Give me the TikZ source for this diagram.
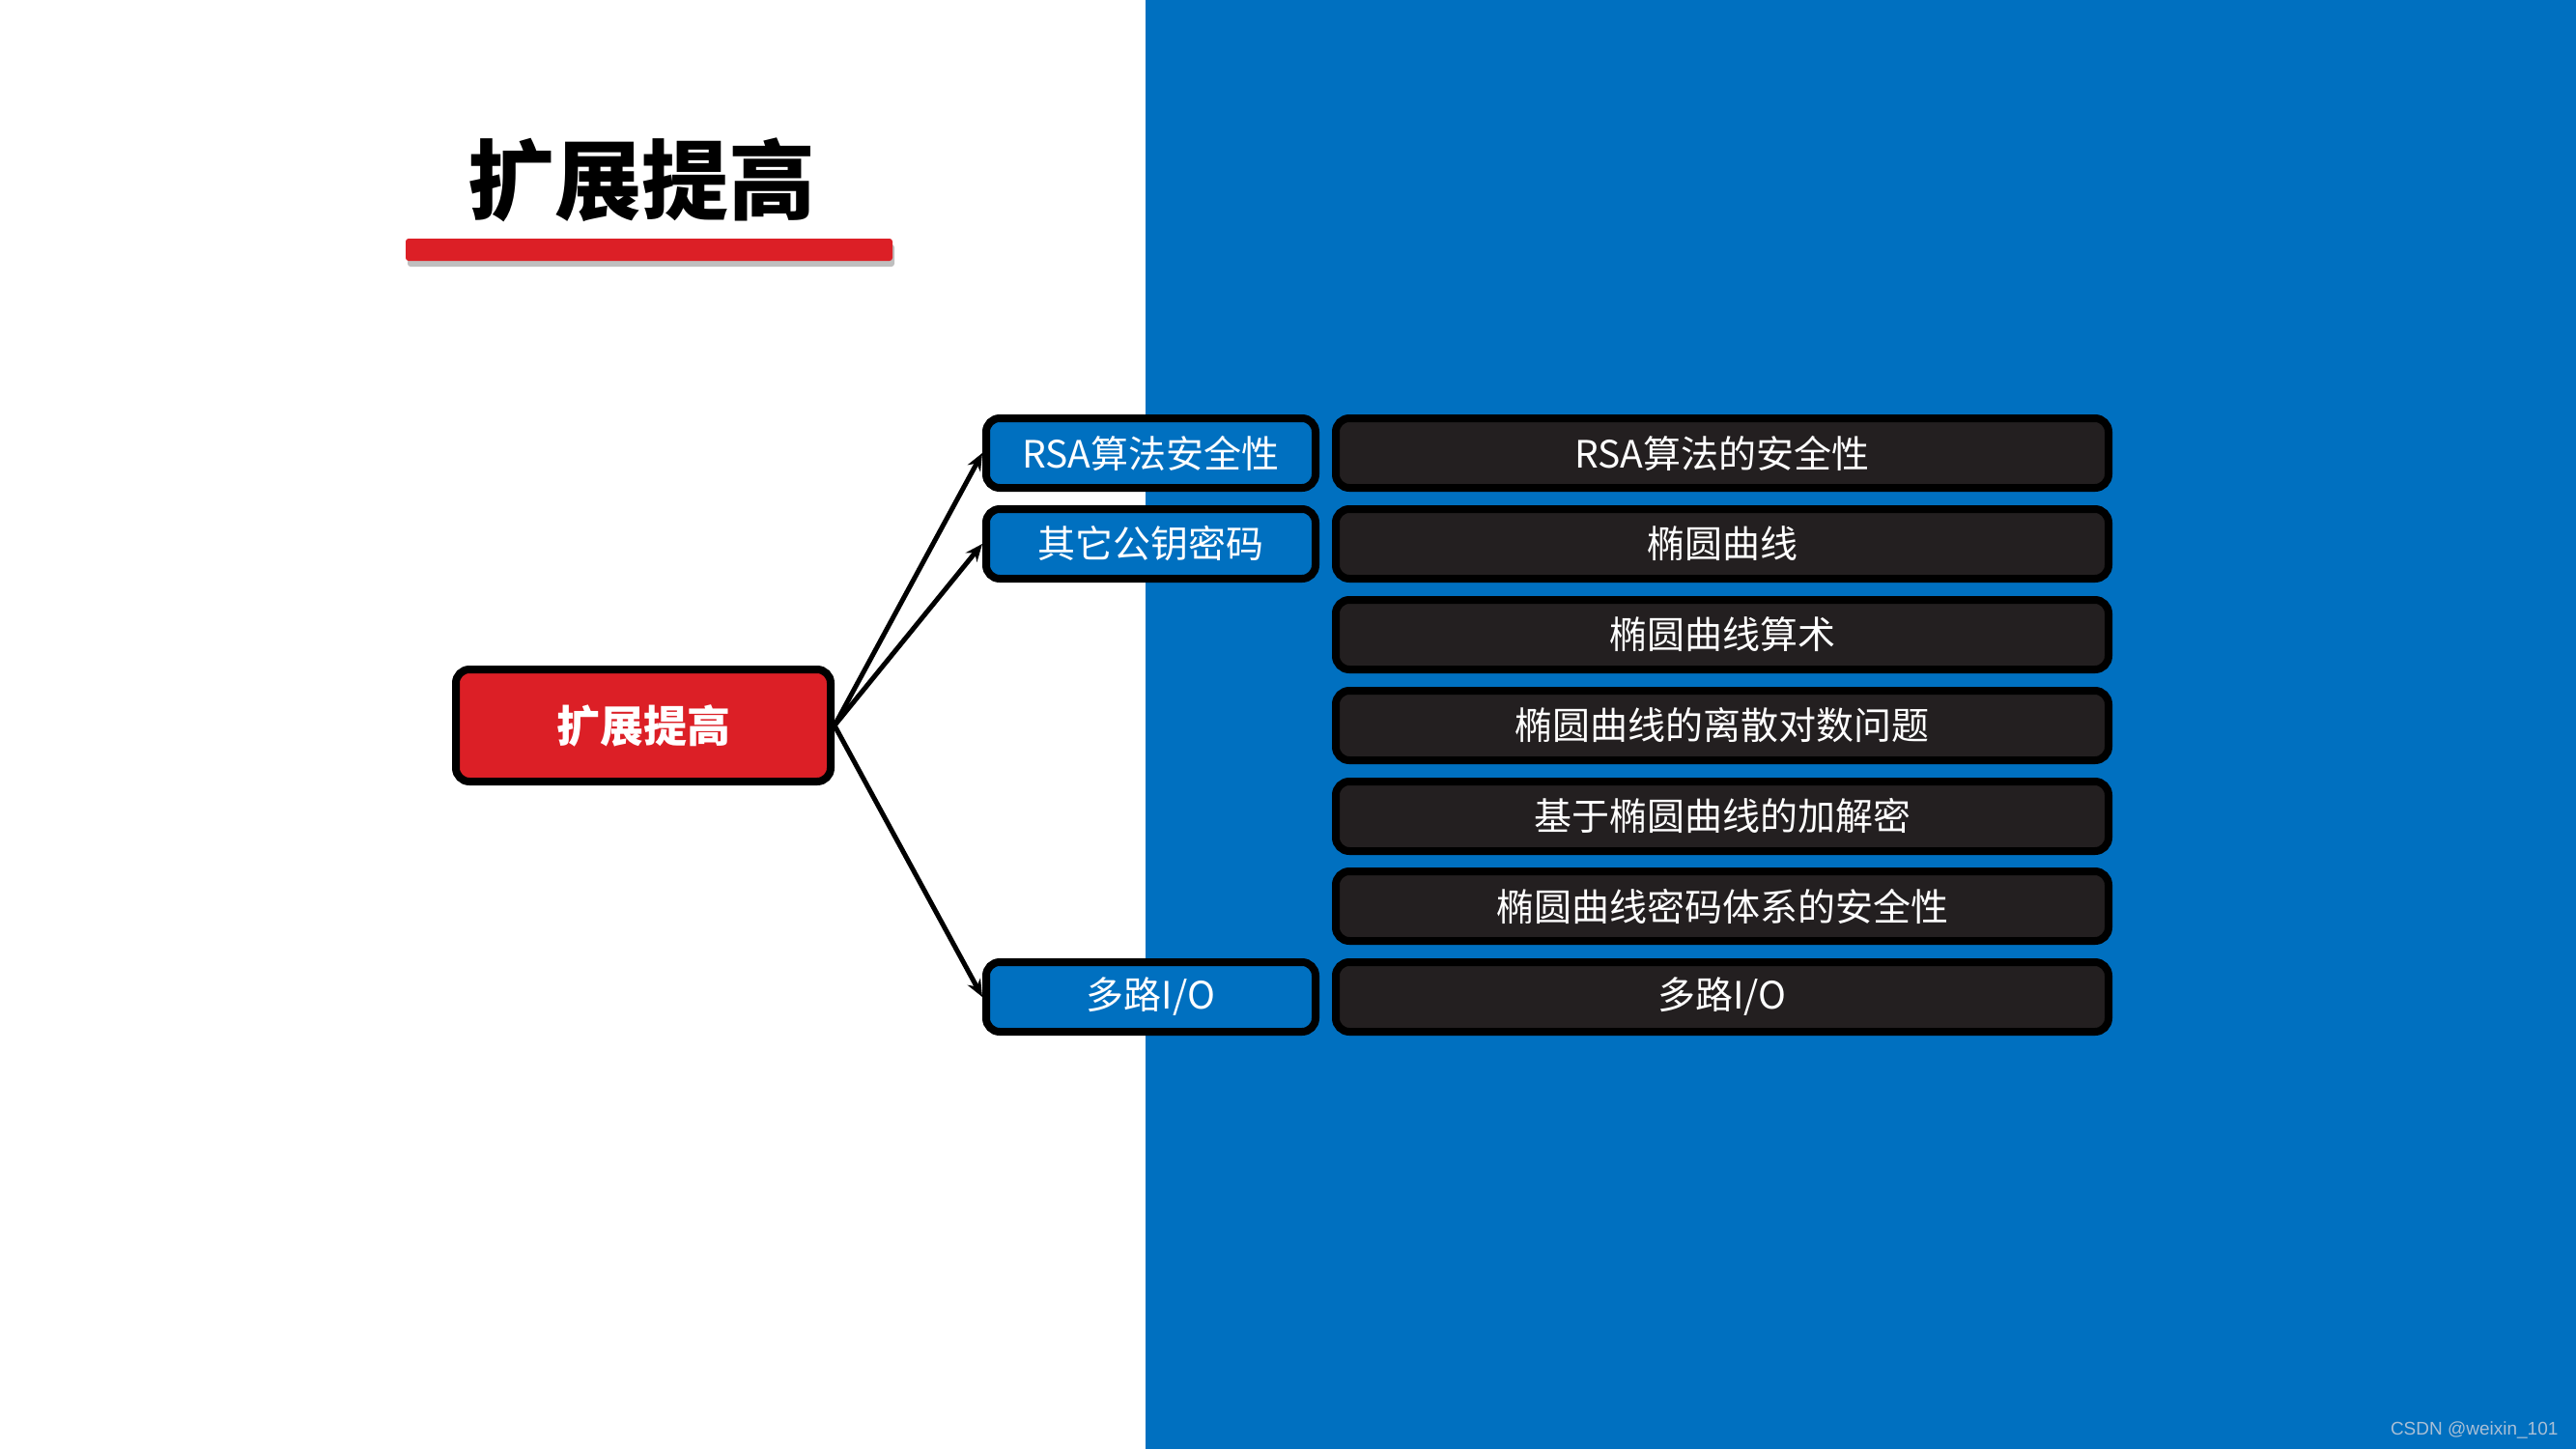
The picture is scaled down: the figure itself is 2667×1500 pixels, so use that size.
\documentclass[tikz,border=0pt]{standalone}
\usepackage{fontspec}
\setmainfont{Noto Sans CJK SC}
\newfontfamily\cjk{Noto Sans CJK SC}
\newfontfamily\wmfont{Liberation Sans}
\usetikzlibrary{arrows.meta,shadows}
\definecolor{panelblue}{HTML}{0070C0}
\definecolor{boxred}{HTML}{DC1F26}
\definecolor{boxdark}{HTML}{231F20}
\definecolor{wmgrey}{HTML}{A9BFD6}
\tikzset{
  basebox/.style={rectangle, rounded corners=14pt, draw=black, line width=8pt, inner sep=0pt, text=white, font=\cjk\fontsize{39}{43}\selectfont},
  rootbox/.style={basebox, fill=boxred, minimum width=388pt, minimum height=116pt, font=\cjk\bfseries\fontsize{45}{50}\selectfont},
  catbox/.style={basebox, fill=panelblue, minimum width=341pt, minimum height=72pt},
  itembox/.style={basebox, fill=boxdark, minimum width=800pt, minimum height=72pt},
  link/.style={line width=5pt, -{Stealth[length=18pt,width=15pt]}}
}
\begin{document}
\begin{tikzpicture}[x=1pt,y=-1pt]
\useasboundingbox (0,0) rectangle (2667,1500);
\fill[white] (0,0) rectangle (1186,1500);
\fill[panelblue] (1186,0) rectangle (2667,1500);
% title
\node[font=\cjk\bfseries\fontsize{90}{96}\selectfont, text=black] (title) at (664,186) {扩展提高};
\fill[boxred, rounded corners=3pt, drop shadow={shadow xshift=2pt, shadow yshift=-6pt, opacity=0.5}] (420,247) rectangle (924,270);
% nodes
\node[rootbox] (root) at (666,751) {扩展提高};
\node[catbox] (c1) at (1191.5,469) {RSA算法安全性};
\node[catbox] (c2) at (1191.5,563) {其它公钥密码};
\node[catbox] (c3) at (1191.5,1032) {多路I/O};
\node[itembox] (i1) at (1783,469) {RSA算法的安全性};
\node[itembox] (i2) at (1783,563) {椭圆曲线};
\node[itembox] (i3) at (1783,657) {椭圆曲线算术};
\node[itembox] (i4) at (1783,751) {椭圆曲线的离散对数问题};
\node[itembox] (i5) at (1783,845) {基于椭圆曲线的加解密};
\node[itembox] (i6) at (1783,938) {椭圆曲线密码体系的安全性};
\node[itembox] (i7) at (1783,1032) {多路I/O};
% connectors
\draw[link] (root.east) -- (c1.west);
\draw[link] (root.east) -- (c2.west);
\draw[link] (root.east) -- (c3.west);
% watermark
\node[anchor=east, font=\wmfont\fontsize{19}{22}\selectfont, text=wmgrey] (wm) at (2652,1480) {CSDN @weixin\_101};
\end{tikzpicture}
\end{document}
